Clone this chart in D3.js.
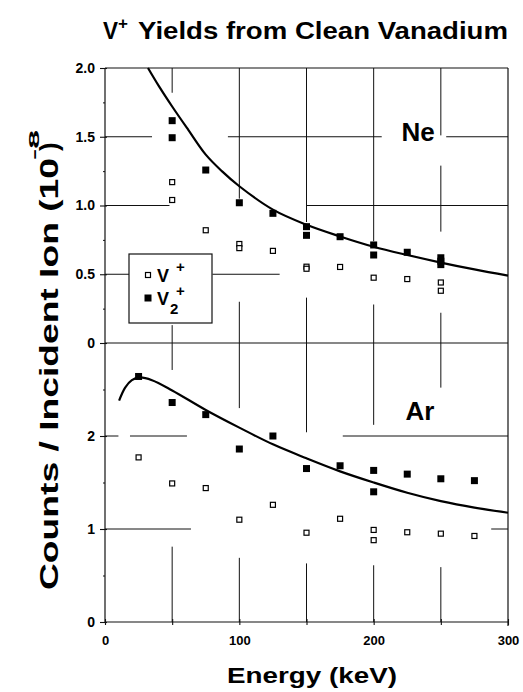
<!DOCTYPE html>
<html><head><meta charset="utf-8">
<script src="https://cdn.jsdelivr.net/npm/d3@7"></script>
<style>
body{margin:0;background:#fff;}
svg{display:block;font-family:"Liberation Sans",Arial,Helvetica,sans-serif;}
</style></head>
<body><svg id="c" width="523" height="692"></svg>
<script>
// ---------- data ----------
// Ne panel (units of 1e-8)
const neV1 = [[50,1.17],[50,1.04],[75,0.82],[100,0.72],[100,0.69],[125,0.67],[150,0.555],[150,0.54],[175,0.553],[200,0.475],[225,0.465],[250,0.44],[250,0.38]];
const neV2 = [[50,1.617],[50,1.493],[75,1.258],[100,1.02],[125,0.943],[150,0.846],[150,0.783],[175,0.773],[200,0.713],[200,0.64],[225,0.66],[250,0.62],[250,0.595],[250,0.57]];
const neCurve = [[32,2.0],[40,1.87],[50,1.72],[62,1.55],[75,1.37],[87,1.25],[100,1.14],[125,0.97],[150,0.86],[175,0.775],[200,0.70],[225,0.64],[250,0.585],[275,0.535],[300,0.49]];
// Ar panel
const arV1 = [[25,1.77],[50,1.49],[75,1.44],[100,1.10],[125,1.26],[150,0.96],[175,1.11],[200,0.99],[200,0.88],[225,0.965],[250,0.95],[275,0.925]];
const arV2 = [[25,2.64],[50,2.36],[75,2.23],[100,1.86],[125,2.0],[150,1.65],[175,1.68],[200,1.63],[200,1.40],[225,1.59],[250,1.54],[275,1.52]];
const arCurve = [[10.5,2.38],[15,2.52],[20,2.60],[26,2.63],[35,2.60],[50,2.49],[75,2.28],[100,2.09],[125,1.91],[150,1.76],[175,1.62],[200,1.50],[225,1.39],[250,1.30],[275,1.23],[300,1.175]];
// tick values / labels
const xTicks = [0,50,100,150,200,250,300];
const xLabels = [0,100,200,300];
const neTicks = [0,0.5,1.0,1.5,2.0];
const neTickLabels = ["0","0.5","1.0","1.5","2.0"];
const neMinor = [0.25,0.75,1.25,1.75];
const arTicks = [0,1,2];
const arTickLabels = ["0","1","2"];
const arMinor = [0.5,1.5,2.5];
// broken grid segments (data space): horizontal {v, from, to} in keV ; vertical {v, from, to} in counts
const neGridH = [{v:1.5,from:0,to:35},{v:1.5,from:91.5,to:206},{v:1.5,from:254,to:300},{v:1.0,from:0,to:48},{v:1.0,from:150,to:300},{v:0.5,from:0,to:18.6},{v:0.5,from:80,to:130}];
const neGridV = [{v:50,from:1.82,to:2},{v:50,from:0,to:0.13},{v:100,from:1.05,to:2},{v:100,from:0,to:0.30},{v:150,from:0.88,to:2},{v:150,from:0,to:0.33},{v:200,from:0.74,to:2},{v:200,from:0,to:0.28},{v:250,from:1.51,to:2},{v:250,from:0.81,to:1.29},{v:250,from:0,to:0.22}];
const arGridH = [{v:2,from:0,to:10},{v:2,from:18.6,to:61},{v:2,from:177,to:300},{v:1,from:0,to:64},{v:1,from:287.5,to:300}];
const arGridV = [{v:50,from:2.71,to:3},{v:50,from:0,to:0.81},{v:100,from:2.30,to:3},{v:100,from:0,to:0.69},{v:150,from:2.04,to:3},{v:150,from:0,to:0.63},{v:200,from:2.12,to:3},{v:200,from:0,to:0.61},{v:250,from:2.52,to:3},{v:250,from:0,to:0.59}];

// ---------- drawing ----------
const svg = d3.select("#c");
const x = d3.scaleLinear([0,300],[105,508]);
const yNe = d3.scaleLinear([0,2],[343,68]);
const yAr = d3.scaleLinear([0,3],[622,343]);
const FONT = '"Liberation Sans",Arial,Helvetica,sans-serif';

function grid(H,V,y){
  svg.append("g").selectAll("line.h").data(H).join("line")
    .attr("x1",d=>x(d.from)).attr("x2",d=>x(d.to)).attr("y1",d=>y(d.v)).attr("y2",d=>y(d.v))
    .attr("stroke","#111").attr("stroke-width",1);
  svg.append("g").selectAll("line.v").data(V).join("line")
    .attr("x1",d=>x(d.v)).attr("x2",d=>x(d.v)).attr("y1",d=>y(d.from)).attr("y2",d=>y(d.to))
    .attr("stroke","#111").attr("stroke-width",1);
}
grid(neGridH,neGridV,yNe);
grid(arGridH,arGridV,yAr);

// frame lines
const frame = svg.append("g").attr("stroke","#111").attr("stroke-width",1.2).attr("fill","none");
frame.append("line").attr("x1",x(0)).attr("x2",x(300)).attr("y1",yNe(2)).attr("y2",yNe(2));
frame.append("line").attr("x1",x(0)).attr("x2",x(300)).attr("y1",yNe(0)).attr("y2",yNe(0));
frame.append("line").attr("x1",x(0)).attr("x2",x(300)).attr("y1",yAr(0)).attr("y2",yAr(0));
frame.append("line").attr("x1",x(0)).attr("x2",x(0)).attr("y1",yNe(2)).attr("y2",yAr(0));
frame.append("line").attr("x1",x(300)).attr("x2",x(300)).attr("y1",yNe(2)).attr("y2",yAr(0)+4);

// axes
function styleAxis(g){
  g.select(".domain").remove();
  g.selectAll(".tick line").attr("stroke","#111").attr("stroke-width",1.1);
  g.selectAll(".tick text").attr("fill","#000").style("font-family",FONT).style("font-weight","bold").style("font-size","14px");
}
const axNe = svg.append("g").attr("transform",`translate(${x(0)},0)`)
  .call(d3.axisLeft(yNe).tickValues(neTicks).tickFormat((d,i)=>neTickLabels[i]).tickSize(5).tickPadding(5));
styleAxis(axNe); axNe.selectAll(".tick line").attr("x2",2).attr("x1",-5);
svg.append("g").attr("transform",`translate(${x(0)},0)`)
  .call(d3.axisLeft(yNe).tickValues(neMinor).tickFormat("").tickSize(2)).call(g=>{g.select(".domain").remove();g.selectAll("line").attr("stroke","#111");});
const axAr = svg.append("g").attr("transform",`translate(${x(0)},0)`)
  .call(d3.axisLeft(yAr).tickValues(arTicks).tickFormat((d,i)=>arTickLabels[i]).tickSize(5).tickPadding(5));
styleAxis(axAr); axAr.selectAll(".tick line").attr("x2",2).attr("x1",-5);
svg.append("g").attr("transform",`translate(${x(0)},0)`)
  .call(d3.axisLeft(yAr).tickValues(arMinor).tickFormat("").tickSize(2)).call(g=>{g.select(".domain").remove();g.selectAll("line").attr("stroke","#111");});
const axX = svg.append("g").attr("transform",`translate(0,${yAr(0)})`)
  .call(d3.axisBottom(x).tickValues(xTicks).tickFormat(d=>xLabels.includes(d)?d:"").tickSize(3).tickPadding(8));
styleAxis(axX); axX.selectAll(".tick line").attr("y1",-3).attr("y2",3);
axX.selectAll(".tick text").attr("dy","0.9em").style("font-size","13px");

// curves
const lineNe = d3.line().x(d=>x(d[0])).y(d=>yNe(d[1])).curve(d3.curveCatmullRom);
const lineAr = d3.line().x(d=>x(d[0])).y(d=>yAr(d[1])).curve(d3.curveCatmullRom);
svg.append("path").datum(neCurve).attr("d",lineNe).attr("fill","none").attr("stroke","#000").attr("stroke-width",2.2);
svg.append("path").datum(arCurve).attr("d",lineAr).attr("fill","none").attr("stroke","#000").attr("stroke-width",2.2);

// markers
function filled(data,y){
  svg.append("g").selectAll("rect").data(data).join("rect")
    .attr("x",d=>x(d[0])-3.5).attr("y",d=>y(d[1])-3.5).attr("width",7).attr("height",7).attr("fill","#000");
}
function open(data,y){
  svg.append("g").selectAll("rect").data(data).join("rect")
    .attr("x",d=>x(d[0])-2.5).attr("y",d=>y(d[1])-2.5).attr("width",5).attr("height",5)
    .attr("fill","#fff").attr("stroke","#000").attr("stroke-width",1.2);
}
open(neV1,yNe); filled(neV2,yNe);
open(arV1,yAr); filled(arV2,yAr);

// panel labels
svg.append("text").attr("x",418).attr("y",141).attr("text-anchor","middle").style("font-size","26px").style("font-weight","bold").text("Ne");
svg.append("text").attr("x",420).attr("y",420).attr("text-anchor","middle").style("font-size","26px").style("font-weight","bold").text("Ar");

// legend
const lg = svg.append("g");
lg.append("rect").attr("x",129).attr("y",254).attr("width",83).attr("height",69).attr("fill","#fff").attr("stroke","#111").attr("stroke-width",1.2);
lg.append("rect").attr("x",145.5).attr("y",272.5).attr("width",5).attr("height",5).attr("fill","#fff").attr("stroke","#000").attr("stroke-width",1.2);
lg.append("rect").attr("x",144.5).attr("y",294.5).attr("width",7).attr("height",7).attr("fill","#000");
lg.append("text").attr("x",157).attr("y",282).style("font-size","18px").style("font-weight","bold").text("V");
lg.append("text").attr("x",176).attr("y",272).style("font-size","15px").style("font-weight","bold").text("+");
lg.append("text").attr("x",157).attr("y",305).style("font-size","18px").style("font-weight","bold").text("V");
lg.append("text").attr("x",176).attr("y",296).style("font-size","15px").style("font-weight","bold").text("+");
lg.append("text").attr("x",170).attr("y",314).style("font-size","15px").style("font-weight","bold").text("2");

// title
svg.append("text").attr("x",103).attr("y",39).style("font-size","23px").style("font-weight","bold").attr("textLength",15).attr("lengthAdjust","spacingAndGlyphs").text("V");
svg.append("text").attr("x",118).attr("y",29).style("font-size","17px").style("font-weight","bold").text("+");
svg.append("text").attr("x",138).attr("y",39).style("font-size","23px").style("font-weight","bold").attr("textLength",370).attr("lengthAdjust","spacingAndGlyphs").text("Yields from Clean Vanadium");

// x label
svg.append("text").attr("x",227).attr("y",683).style("font-size","22px").style("font-weight","bold").attr("textLength",170).attr("lengthAdjust","spacingAndGlyphs").text("Energy (keV)");

// y label (rotated)
const yl = svg.append("g").attr("transform","translate(58,0) rotate(-90)");
yl.append("text").attr("x",-590).attr("y",0).style("font-size","26px").style("font-weight","bold").attr("textLength",432).attr("lengthAdjust","spacingAndGlyphs").text("Counts / Incident Ion (10");
yl.append("text").attr("x",-160).attr("y",-19).style("font-size","15px").style("font-weight","bold").attr("textLength",30).attr("lengthAdjust","spacingAndGlyphs").text("-8");
yl.append("text").attr("x",-151).attr("y",0).style("font-size","26px").style("font-weight","bold").text(")");
</script></body></html>
